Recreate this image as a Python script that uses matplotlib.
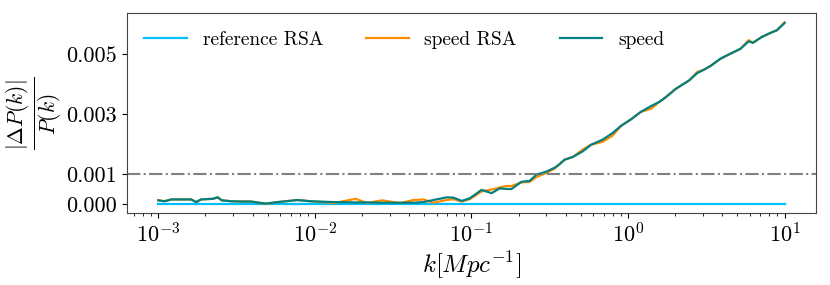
import numpy as np
import matplotlib
matplotlib.use('Agg')
import matplotlib.pyplot as plt

plt.rcParams['font.family'] = 'serif'
plt.rcParams['font.serif'] = ['cmr10']
plt.rcParams['mathtext.fontset'] = 'cm'
plt.rcParams['axes.formatter.use_mathtext'] = True

# log10 of k [Mpc^-1]
log_k = [-3.0, -2.96, -2.917, -2.833, -2.79, -2.758, -2.727, -2.652, -2.62, -2.595,
         -2.536, -2.472, -2.409, -2.313, -2.239, -2.112, -2.027, -1.879, -1.74, -1.667,
         -1.571, -1.455, -1.37, -1.306, -1.243, -1.158, -1.116, -1.062, -1.01, -0.935,
         -0.872, -0.819, -0.776, -0.744, -0.681, -0.628, -0.585, -0.522, -0.469, -0.437,
         -0.405, -0.353, -0.289, -0.236, -0.162, -0.099, -0.045, 0.019, 0.082, 0.146,
         0.199, 0.241, 0.305, 0.39, 0.443, 0.485, 0.528, 0.591, 0.644, 0.718,
         0.771, 0.797, 0.856, 0.909, 0.951, 1.0]

speed = [0.00012, 0.00009, 0.00015, 0.00015, 0.00015, 0.00006, 0.00015, 0.00017, 0.00022, 0.00012,
         0.00009, 0.00008, 0.00008, 0.00001, 0.00006, 0.00013, 0.00009, 0.00006, 0.00005, 0.00005,
         0.00004, 0.00004, 0.00004, 0.00006, 0.00013, 0.00022, 0.00021, 0.00010, 0.00019, 0.00047,
         0.00036, 0.00052, 0.00050, 0.00050, 0.00074, 0.00077, 0.00098, 0.00108, 0.00121, 0.00133,
         0.00148, 0.00157, 0.00176, 0.00198, 0.00215, 0.00237, 0.00261, 0.00283, 0.00308, 0.00327,
         0.00341, 0.00357, 0.00385, 0.00413, 0.00438, 0.00449, 0.00462, 0.00486, 0.00500, 0.00519,
         0.00544, 0.00539, 0.00559, 0.00572, 0.00581, 0.00605]

speed_rsa = [0.00012, 0.00009, 0.00015, 0.00015, 0.00015, 0.00006, 0.00015, 0.00017, 0.00022, 0.00012,
             0.00009, 0.00008, 0.00008, 0.00000, 0.00006, 0.00013, 0.00009, 0.00003, 0.00017, 0.00003,
             0.00012, 0.00003, 0.00013, 0.00015, 0.00004, 0.00013, 0.00016, 0.00008, 0.00016, 0.00042,
             0.00048, 0.00055, 0.00060, 0.00060, 0.00072, 0.00074, 0.00090, 0.00104, 0.00118, 0.00133,
             0.00148, 0.00157, 0.00182, 0.00198, 0.00208, 0.00228, 0.00261, 0.00283, 0.00308, 0.00318,
             0.00341, 0.00357, 0.00385, 0.00413, 0.00442, 0.00449, 0.00462, 0.00486, 0.00500, 0.00519,
             0.00548, 0.00539, 0.00559, 0.00572, 0.00581, 0.00608]

reference_rsa = [0.0] * len(log_k)

k = 10 ** np.array(log_k)

fig = plt.figure(figsize=(8.3, 2.85), dpi=100)
ax = fig.add_axes([0.153, 0.2526, 0.83, 0.7014])

ax.plot(k, reference_rsa, color='deepskyblue', lw=1.6, label='reference RSA')
ax.plot(k, speed_rsa, color='darkorange', lw=1.6, label='speed RSA')
ax.plot(k, speed, color='teal', lw=1.6, label='speed')
ax.axhline(0.001, color='gray', ls='-.', lw=1.5)

ax.set_xscale('log')
ax.set_yticks([0.0, 0.001, 0.003, 0.005])
ax.set_yticklabels(['0.000', '0.001', '0.003', '0.005'])
ax.tick_params(labelsize=16)
for s in ax.spines.values():
    s.set_color('#444444')

ax.set_xlabel(r'$k[Mpc^{-1}]$', fontsize=18, labelpad=2)
ax.set_ylabel(r'$\frac{|\Delta P(k)|}{P(k)}$', fontsize=22, labelpad=2)

ax.legend(loc='upper left', ncol=3, frameon=False, fontsize=14,
          handlelength=2.2, columnspacing=2.2)

plt.savefig('out.png')
